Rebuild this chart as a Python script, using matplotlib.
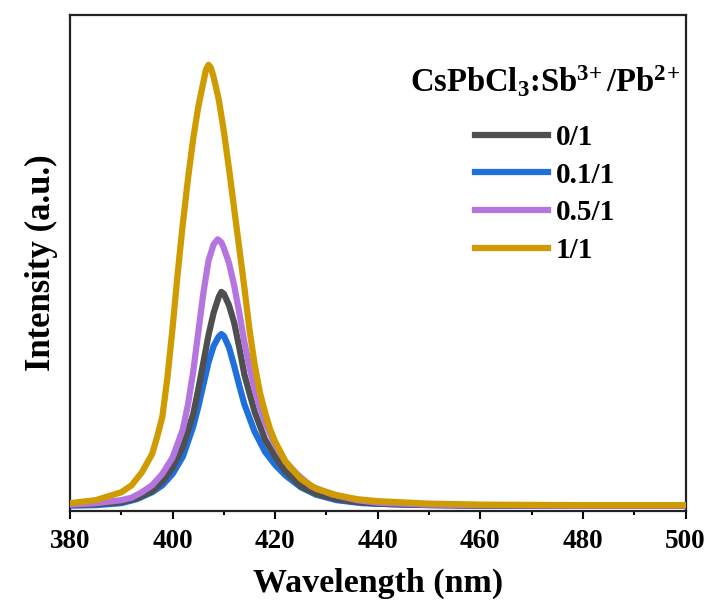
import matplotlib
matplotlib.use("Agg")
import matplotlib.pyplot as plt
from matplotlib.ticker import MultipleLocator

plt.rcParams['font.family'] = ['Liberation Serif', 'DejaVu Serif']
plt.rcParams['font.weight'] = 'bold'
plt.rcParams['mathtext.fontset'] = 'custom'
plt.rcParams['mathtext.rm'] = 'Liberation Serif:bold'
plt.rcParams['mathtext.it'] = 'Liberation Serif:bold'
plt.rcParams['mathtext.bf'] = 'Liberation Serif:bold'

# values (arbitrary intensity units)
wl_y = [380, 385, 390, 392, 394, 396, 397, 398, 399, 400, 401, 402, 403, 404, 405, 406,
        406.5, 407, 407.5, 408, 409, 410, 411, 412, 413, 414, 415, 416, 417, 418, 419,
        420, 422, 425, 428, 432, 436, 440, 450, 460, 480, 500]
int_y = [0.016, 0.022, 0.038, 0.052, 0.078, 0.115, 0.15, 0.19, 0.27, 0.37, 0.48, 0.58,
         0.67, 0.75, 0.815, 0.865, 0.89, 0.90, 0.893, 0.875, 0.83, 0.765, 0.69, 0.61,
         0.53, 0.45, 0.365, 0.295, 0.24, 0.20, 0.165, 0.14, 0.10, 0.065, 0.045, 0.032,
         0.024, 0.020, 0.015, 0.013, 0.012, 0.012]

wl_p = [380, 385, 390, 392, 394, 396, 398, 400, 402, 403, 404, 405, 406, 407, 408, 408.8,
        409.5, 410, 411, 412, 413, 414, 415, 416, 417, 418, 420, 422, 424, 427, 431, 436,
        440, 450, 460, 480, 500]
int_p = [0.013, 0.016, 0.022, 0.027, 0.038, 0.052, 0.075, 0.108, 0.165, 0.215, 0.28,
         0.36, 0.44, 0.505, 0.538, 0.548, 0.542, 0.53, 0.50, 0.455, 0.40, 0.34, 0.29,
         0.245, 0.21, 0.18, 0.133, 0.10, 0.077, 0.05, 0.034, 0.022, 0.017, 0.013, 0.012,
         0.011, 0.011]

wl_g = [380, 385, 390, 393, 396, 398, 400, 402, 404, 405, 406, 407, 408, 409, 409.5, 410,
        411, 412, 413, 414, 416, 418, 420, 422, 425, 428, 432, 436, 440, 450, 460, 480, 500]
int_g = [0.012, 0.014, 0.018, 0.026, 0.040, 0.060, 0.088, 0.13, 0.195, 0.245, 0.30, 0.355,
         0.40, 0.432, 0.442, 0.438, 0.415, 0.38, 0.33, 0.275, 0.20, 0.145, 0.11, 0.08,
         0.05, 0.035, 0.024, 0.018, 0.015, 0.012, 0.011, 0.011, 0.011]

wl_b = [380, 385, 390, 393, 396, 398, 400, 402, 404, 405, 406, 407, 408, 409, 409.5, 410,
        411, 412, 413, 414, 416, 418, 420, 422, 425, 428, 432, 437, 445, 460, 480, 500]
int_b = [0.011, 0.012, 0.016, 0.024, 0.038, 0.052, 0.075, 0.11, 0.17, 0.21, 0.255, 0.30,
         0.333, 0.352, 0.357, 0.353, 0.33, 0.293, 0.253, 0.215, 0.16, 0.12, 0.093, 0.072,
         0.048, 0.033, 0.022, 0.016, 0.013, 0.011, 0.011, 0.011]

labels = ['0/1', '0.1/1', '0.5/1', '1/1']
colors = ['#4f4f4f', '#1f6fdc', '#b475e0', '#cf9b00']

fig = plt.figure(figsize=(7.10, 6.07), dpi=100)
ax = fig.add_axes([0.0986, 0.158, 0.867, 0.817])

lw = 4.5
ax.plot(wl_g, int_g, color=colors[0], lw=lw, label=labels[0], zorder=3)
ax.plot(wl_b, int_b, color=colors[1], lw=lw, label=labels[1], zorder=2)
ax.plot(wl_p, int_p, color=colors[2], lw=lw, label=labels[2], zorder=4)
ax.plot(wl_y, int_y, color=colors[3], lw=lw, label=labels[3], zorder=5)

ax.set_xlim(380, 500)
ax.set_ylim(0, 1)
ax.xaxis.set_major_locator(MultipleLocator(20))
ax.xaxis.set_minor_locator(MultipleLocator(10))
ax.tick_params(axis='x', which='major', direction='out', length=6, width=1.5,
               labelsize=19.5, pad=7)
ax.tick_params(axis='x', which='minor', direction='out', length=3, width=1.5)
ax.set_yticks([])
for sp in ax.spines.values():
    sp.set_linewidth(1.6)
    sp.set_color('#222222')

ax.set_xlabel('Wavelength (nm)', fontsize=24.5, fontweight='bold', labelpad=10)
ax.set_ylabel('Intensity (a.u.)', fontsize=25, fontweight='bold', labelpad=9)

leg = ax.legend(loc='upper left', bbox_to_anchor=(0.529, 0.932), frameon=False,
                title=r'CsPbCl$_{3}$:Sb$^{3\!+}$/Pb$^{2\!+}$', title_fontsize=23.5,
                prop={'size': 21, 'weight': 'bold'}, handlelength=2.5,
                handletextpad=0.25, labelspacing=0.37, borderpad=0.0)
leg._legend_box.sep = 18

fig.savefig('out.png', dpi=100)
